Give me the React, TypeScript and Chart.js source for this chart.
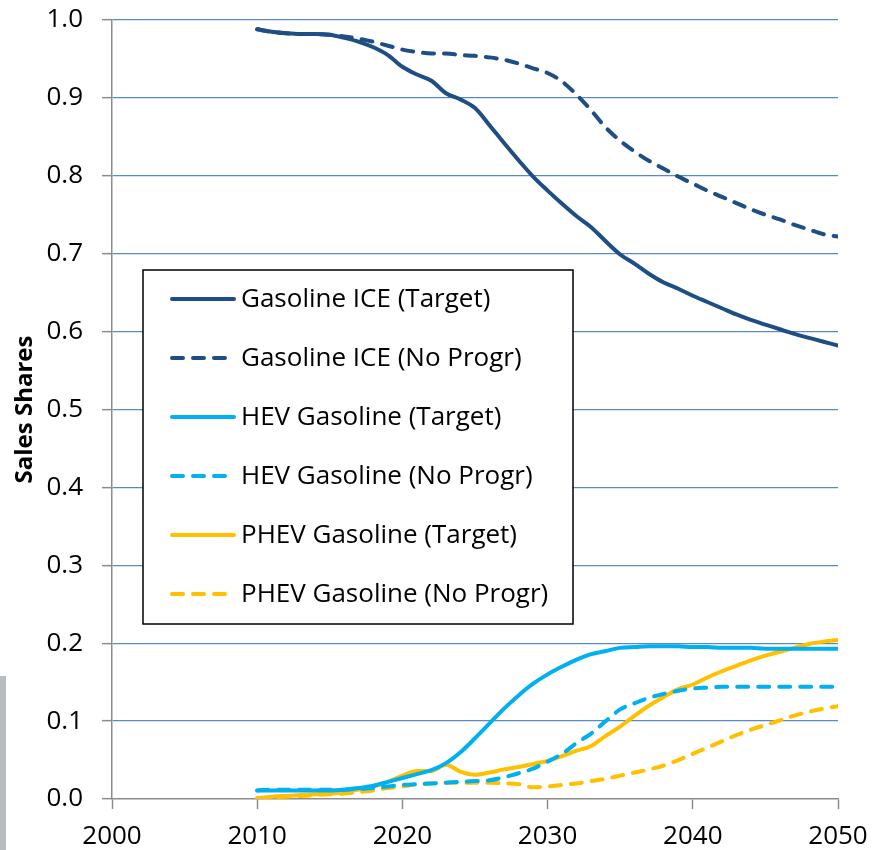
import React, { useEffect, useRef } from "react";
import { Chart, registerables } from "chart.js";

Chart.register(...registerables);

const years = [
  2010, 2011, 2012, 2013, 2014, 2015, 2016, 2017, 2018, 2019,
  2020, 2021, 2022, 2023, 2024, 2025, 2026, 2027, 2028, 2029,
  2030, 2031, 2032, 2033, 2034, 2035, 2036, 2037, 2038, 2039,
  2040, 2041, 2042, 2043, 2044, 2045, 2046, 2047, 2048, 2049, 2050,
];

const iceTarget = [
  0.988, 0.985, 0.983, 0.982, 0.982, 0.981, 0.977, 0.972, 0.965, 0.955,
  0.940, 0.930, 0.922, 0.906, 0.898, 0.887, 0.865, 0.842, 0.820, 0.799,
  0.781, 0.764, 0.748, 0.734, 0.716, 0.699, 0.687, 0.674, 0.663, 0.655,
  0.646, 0.638, 0.630, 0.622, 0.615, 0.609, 0.603, 0.597, 0.592, 0.587, 0.582,
];

const iceNoProgr = [
  0.988, 0.985, 0.983, 0.982, 0.982, 0.981, 0.979, 0.976, 0.972, 0.967,
  0.962, 0.959, 0.957, 0.957, 0.955, 0.954, 0.952, 0.949, 0.944, 0.938,
  0.932, 0.921, 0.904, 0.884, 0.862, 0.845, 0.831, 0.819, 0.809, 0.799,
  0.790, 0.781, 0.773, 0.765, 0.757, 0.750, 0.744, 0.737, 0.731, 0.725, 0.722,
];

const hevTarget = [
  0.011, 0.011, 0.011, 0.011, 0.011, 0.011, 0.012, 0.014, 0.017, 0.022,
  0.027, 0.032, 0.037, 0.046, 0.060, 0.078, 0.097, 0.116, 0.133, 0.148,
  0.160, 0.170, 0.179, 0.186, 0.190, 0.194, 0.195, 0.196, 0.196, 0.196,
  0.195, 0.195, 0.194, 0.194, 0.194, 0.193, 0.193, 0.193, 0.193, 0.193, 0.193,
];

const hevNoProgr = [
  0.011, 0.012, 0.012, 0.012, 0.012, 0.012, 0.012, 0.013, 0.014, 0.016,
  0.018, 0.019, 0.020, 0.021, 0.022, 0.023, 0.024, 0.028, 0.033, 0.039,
  0.048, 0.058, 0.072, 0.084, 0.100, 0.115, 0.123, 0.130, 0.135, 0.139,
  0.142, 0.143, 0.144, 0.144, 0.144, 0.144, 0.144, 0.144, 0.144, 0.144, 0.144,
];

const phevTarget = [
  0.001, 0.003, 0.004, 0.005, 0.006, 0.007, 0.009, 0.012, 0.016, 0.022,
  0.030, 0.036, 0.036, 0.044, 0.035, 0.031, 0.034, 0.038, 0.041, 0.045,
  0.049, 0.055, 0.062, 0.068, 0.081, 0.093, 0.107, 0.120, 0.131, 0.141,
  0.147, 0.156, 0.164, 0.171, 0.178, 0.184, 0.189, 0.194, 0.199, 0.202, 0.204,
];

const phevNoProgr = [
  0.001, 0.002, 0.003, 0.004, 0.005, 0.006, 0.007, 0.009, 0.011, 0.014,
  0.016, 0.019, 0.020, 0.021, 0.021, 0.021, 0.021, 0.020, 0.019, 0.015,
  0.016, 0.018, 0.020, 0.023, 0.026, 0.030, 0.034, 0.038, 0.043, 0.050,
  0.058, 0.066, 0.074, 0.082, 0.089, 0.095, 0.101, 0.107, 0.112, 0.116, 0.119,
];

const seriesLabels = [
  "Gasoline ICE (Target)",
  "Gasoline ICE (No Progr)",
  "HEV Gasoline (Target)",
  "HEV Gasoline (No Progr)",
  "PHEV Gasoline (Target)",
  "PHEV Gasoline (No Progr)",
];

const NAVY = "#1F4E85";
const CYAN = "#00B0F0";
const GOLD = "#FFC000";
const GRID = "#5A8AC6";
const AXIS = "#8C8C8C";
const FONT = "'Open Sans', sans-serif";
const DASH = [11, 10];

const boxLegend = {
  id: "boxLegend",
  afterDraw(chart: any) {
    const ctx = chart.ctx;
    const bx = 143, by = 270, bw = 430, bh = 354;
    ctx.save();
    ctx.fillStyle = "#ffffff";
    ctx.fillRect(bx, by, bw, bh);
    ctx.strokeStyle = "#000000";
    ctx.lineWidth = 1.5;
    ctx.strokeRect(bx, by, bw, bh);
    chart.data.datasets.forEach((ds: any, i: number) => {
      const cy = 299 + i * 59;
      ctx.beginPath();
      ctx.strokeStyle = ds.borderColor;
      ctx.lineWidth = ds.borderWidth;
      ctx.lineCap = "round";
      ctx.setLineDash(ds.borderDash || []);
      ctx.moveTo(172, cy);
      ctx.lineTo(ds.borderDash ? 228 : 234, cy);
      ctx.stroke();
      ctx.setLineDash([]);
      ctx.fillStyle = "#000000";
      ctx.font = `26px ${FONT}`;
      ctx.textAlign = "left";
      ctx.textBaseline = "middle";
      ctx.fillText(ds.label, 241, cy + 1);
    });
    ctx.restore();
  },
};

function makeData(values: number[]) {
  return years.map((yr, i) => ({ x: yr, y: values[i] }));
}

export default function App() {
  const ref = useRef<HTMLCanvasElement>(null);

  useEffect(() => {
    if (!ref.current) return;
    const base = {
      pointRadius: 0,
      borderWidth: 4,
      fill: false,
      cubicInterpolationMode: "monotone" as const,
      borderCapStyle: "round" as const,
      borderJoinStyle: "round" as const,
    };
    const chart = new Chart(ref.current, {
      type: "line",
      data: {
        datasets: [
          { ...base, label: seriesLabels[0], data: makeData(iceTarget), borderColor: NAVY },
          { ...base, label: seriesLabels[1], data: makeData(iceNoProgr), borderColor: NAVY, borderDash: DASH },
          { ...base, label: seriesLabels[2], data: makeData(hevTarget), borderColor: CYAN },
          { ...base, label: seriesLabels[3], data: makeData(hevNoProgr), borderColor: CYAN, borderDash: DASH },
          { ...base, label: seriesLabels[4], data: makeData(phevTarget), borderColor: GOLD },
          { ...base, label: seriesLabels[5], data: makeData(phevNoProgr), borderColor: GOLD, borderDash: DASH },
        ],
      },
      options: {
        animation: false,
        responsive: false,
        layout: { padding: { top: 20, right: 45, bottom: 0, left: 0 } },
        plugins: {
          legend: { display: false },
          tooltip: { enabled: false },
        },
        scales: {
          x: {
            type: "linear",
            min: 2000,
            max: 2050,
            afterFit: (s: any) => {
              s.height = 51;
              s.paddingLeft = 0;
              s.paddingRight = 0;
            },
            ticks: {
              stepSize: 10,
              color: "#000",
              font: { family: FONT, size: 26 },
              padding: 12,
              maxRotation: 0,
              callback: (v: any) => String(v),
            },
            grid: {
              drawOnChartArea: false,
              drawTicks: true,
              tickLength: 10,
              tickColor: AXIS,
              tickWidth: 1.5,
            },
            border: { color: AXIS, width: 1.5 },
          },
          y: {
            type: "linear",
            min: 0,
            max: 1,
            afterFit: (s: any) => {
              s.width = 112;
              s.paddingTop = 0;
              s.paddingBottom = 0;
            },
            ticks: {
              stepSize: 0.1,
              color: "#000",
              font: { family: FONT, size: 26 },
              padding: 19,
              callback: (v: any) => Number(v).toFixed(1),
            },
            grid: {
              color: (c: any) => (c.tick && c.tick.value === 0 ? "rgba(0,0,0,0)" : GRID),
              lineWidth: 1.3,
              tickLength: 10,
              tickColor: AXIS,
              tickWidth: 1.5,
            },
            border: { color: AXIS, width: 1.5 },
            title: {
              display: true,
              text: "Sales Shares",
              color: "#000",
              font: { family: FONT, size: 24, weight: "bold" },
              padding: { top: 11, bottom: 0 },
            },
          },
        },
      },
      plugins: [boxLegend],
    });
    return () => chart.destroy();
  }, []);

  return (
    <div style={{ position: "absolute", left: 0, top: 0, width: 883, height: 850, background: "#fff" }}>
      <canvas ref={ref} width={883} height={850} style={{ display: "block" }} />
      <div style={{ position: "absolute", left: 0, top: 676, width: 6, height: 174, background: "#B8BBBF" }} />
    </div>
  );
}
